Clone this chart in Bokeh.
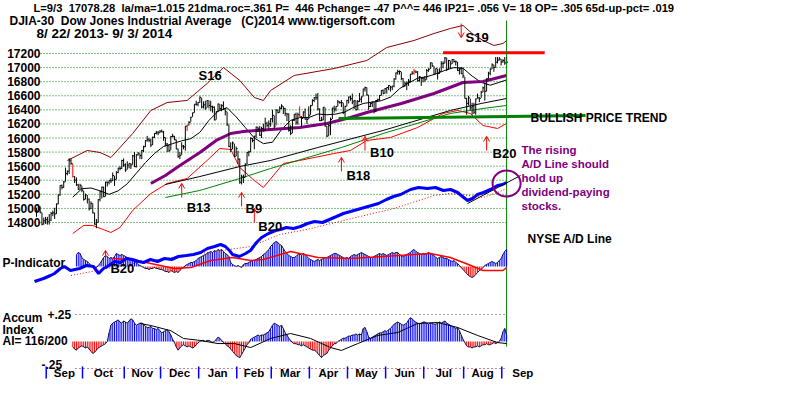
import numpy as np
from bokeh.plotting import figure
from bokeh.models import Range1d
from bokeh.core.properties import value
from bokeh.embed import file_html
from bokeh.resources import INLINE

# ---------------- data ----------------
# DJIA daily bars, trading-day index 0 = 8/22/2013 ... 259 = 9/3/2014
close = [14963,15010,14946,14776,14825,14840,14810,14834,14930,14937,
         14922,15063,15191,15326,15300,15376,15494,15529,15676,15636,
         15451,15401,15334,15273,15328,15258,15129,15191,15133,14996,
         15072,14936,14776,14802,15126,15237,15301,15168,15373,15371,
         15399,15392,15467,15413,15509,15570,15568,15680,15618,15545,
         15615,15639,15618,15746,15593,15761,15783,15750,15821,15876,
         15961,15976,15967,15900,16010,16065,16073,16073,16097,16086,
         16008,15915,15890,15821,16020,16025,15974,15844,15739,15755,
         15885,15875,16168,16179,16221,16295,16358,16479,16479,16505,
         16577,16441,16470,16425,16531,16462,16444,16437,16257,16374,
         16482,16418,16459,16415,16374,16198,15880,15838,15929,15739,
         15849,15699,15373,15446,15441,15629,15795,15802,15995,15964,
         16027,16154,16130,16041,16133,16104,16208,16180,16199,16273,
         16322,16168,16396,16361,16422,16453,16419,16351,16340,16109,
         16066,16248,16337,16223,16331,16303,16277,16368,16268,16264,
         16324,16458,16532,16573,16572,16413,16246,16256,16437,16171,
         16027,16174,16263,16425,16409,16449,16514,16502,16501,16361,
         16448,16535,16581,16558,16513,16531,16402,16518,16551,16584,
         16696,16715,16613,16447,16492,16512,16374,16533,16543,16606,
         16676,16634,16699,16717,16744,16723,16738,16837,16924,16943,
         16945,16843,16734,16776,16781,16808,16907,16921,16947,16937,
         16818,16868,16846,16851,16827,16956,16976,17068,17024,16906,
         16985,16915,16944,17055,17060,17138,16977,17100,17052,17114,
         17087,17083,16961,16983,16913,16881,16563,16493,16570,16429,
         16443,16368,16554,16569,16560,16651,16713,16663,16839,16920,
         16979,17039,17001,17076,17107,17122,17080,17098,17067,17078]
high = [15010,15040,15030,14940,14870,14880,14880,14920,14950,14970,
        15010,15070,15200,15330,15340,15390,15580,15540,15710,15710,
        15640,15460,15440,15350,15350,15320,15250,15210,15190,15140,
        15100,15070,14940,14850,15130,15250,15310,15310,15380,15380,
        15400,15430,15510,15460,15530,15580,15600,15690,15710,15640,
        15670,15640,15640,15760,15800,15770,15800,15780,15830,15890,
        15970,16030,16000,15990,16020,16070,16100,16100,16110,16120,
        16100,16010,15930,15900,16030,16060,16030,15980,15850,15800,
        15940,15900,16170,16190,16240,16300,16360,16480,16530,16510,
        16590,16570,16520,16530,16540,16530,16530,16460,16450,16380,
        16490,16480,16480,16520,16430,16370,16190,15940,15950,15920,
        15880,15820,15710,15480,15480,15640,15800,15820,16010,16000,
        16030,16160,16160,16170,16160,16200,16290,16230,16250,16280,
        16400,16320,16410,16400,16450,16480,16450,16430,16350,16350,
        16180,16260,16340,16360,16360,16450,16310,16380,16420,16300,
        16450,16470,16550,16580,16630,16640,16420,16300,16440,16430,
        16170,16200,16290,16430,16460,16450,16540,16520,16540,16500,
        16460,16540,16590,16600,16630,16540,16530,16540,16640,16590,
        16700,16730,16720,16610,16500,16520,16510,16540,16560,16610,
        16680,16690,16710,16720,16750,16740,16740,16850,16930,16970,
        16960,16940,16850,16800,16800,16840,16910,16950,16980,16960,
        16950,16880,16860,16860,16880,16980,16990,17070,17070,17020,
        16990,16980,16990,17090,17090,17150,17140,17110,17100,17120,
        17120,17100,17080,17000,17010,17000,16870,16570,16600,16560,
        16500,16500,16560,16630,16580,16670,16730,16780,16850,16940,
        16990,17060,17040,17150,17150,17150,17120,17120,17150,17150]
low = [14880,14950,14930,14760,14770,14780,14770,14770,14820,14890,
       14850,14920,15060,15180,15270,15290,15380,15470,15490,15620,
       15440,15360,15320,15260,15270,15230,15110,15130,15070,14970,
       14990,14930,14770,14720,14800,15100,15140,15160,15170,15310,
       15340,15360,15390,15320,15410,15500,15540,15560,15590,15520,
       15550,15570,15560,15620,15590,15580,15750,15700,15700,15800,
       15870,15950,15940,15870,15900,16000,16050,16040,16070,16080,
       15960,15880,15800,15800,15830,16010,15970,15840,15720,15700,
       15760,15840,15820,16100,16180,16230,16300,16360,16460,16450,
       16500,16420,16420,16400,16430,16420,16380,16360,16250,16260,
       16370,16390,16380,16400,16320,16170,15870,15800,15840,15730,
       15740,15630,15350,15340,15360,15440,15630,15740,15800,15940,
       15840,16000,16090,16030,16000,16090,16100,16150,16130,16160,
       16220,16130,16180,16350,16360,16410,16340,16310,16240,16090,
       16040,16070,16240,16190,16190,16300,16150,16280,16260,16200,
       16270,16330,16460,16510,16540,16390,16240,16240,16250,16160,
       16010,16030,16040,16270,16360,16380,16450,16490,16440,16340,
       16290,16450,16490,16530,16480,16410,16390,16400,16510,16500,
       16590,16660,16600,16400,16440,16440,16350,16370,16510,16530,
       16600,16620,16630,16630,16680,16660,16680,16720,16830,16900,
       16900,16820,16720,16730,16680,16740,16790,16900,16900,16920,
       16800,16800,16740,16790,16800,16830,16940,16980,17010,16900,
       16910,16830,16910,16950,16990,17060,16950,16980,16990,17050,
       17070,17030,16950,16900,16910,16850,16560,16330,16460,16400,
       16330,16340,16330,16560,16510,16570,16650,16530,16660,16840,
       16890,16980,16940,17000,17060,17100,17030,17070,17040,17050]
red_bar_days = [20, 83, 145, 208]

# moving averages and bands (day index, value)
ma21_day = [20,25,30,35,40,45,50,55,60,65,70,75,80,85,90,95,100,105,110,115,120,125,
            130,135,140,145,150,155,160,165,170,175,180,185,190,195,200,205,210,215,
            220,225,230,235,240,245,250,255,259]
ma21 = [15160,15280,15290,15250,15200,15250,15350,15500,15650,15780,15880,15920,15960,
        15990,16080,16250,16380,16430,16300,16150,16000,15920,15940,16120,16250,16290,
        16290,16340,16330,16340,16370,16440,16490,16510,16530,16580,16700,16780,16850,
        16870,16910,16960,17000,16990,16880,16790,16750,16790,16826]
ma65_day = [63,71,79,90,99,107,114,129,145,160,173,182,201,219,235,246,259]
ma65 = [15354,15468,15610,15794,15965,16064,16092,16121,16149,16206,16291,16362,16490,
        16632,16788,16802,16888]
ma200_day = [71,90,112,129,155,191,228,245,259]
ma200 = [15340,15453,15595,15681,15865,16107,16391,16490,16561]
gma_day = [71,90,112,129,168,191,228,246,259]
gma = [15155,15255,15425,15567,15865,16064,16348,16419,16462]
upper_day = [17,28,35,41,53,63,72,83,94,103,112,120,125,129,142,164,182,193,208,219,
             228,235,240,246,252,257,259]
upper = [15681,15823,15794,15723,16064,16391,16504,16533,16774,17001,16817,16575,16533,
         16675,16888,16987,17101,17285,17385,17484,17555,17598,17484,17385,17314,17342,17385]
lower_day = [20,26,31,41,46,53,63,72,83,94,101,107,112,120,125,136,145,164,173,182,195,
             210,224,232,239,246,254,259]
lower = [14644,14758,14758,14658,14729,14971,15212,15354,15425,15681,15851,15837,15581,
         15397,15297,15638,15681,15780,15823,15965,16007,16149,16348,16391,16348,16178,
         16135,16206]

resist_day = [224, 280]
resist_level = 17210
trend_day = [166.4, 302.5]
trend_level = [16277, 16320]

# NYSE A/D line (arbitrary cumulative units)
ad_day = [-1.1,3.9,7.7,9.9,13.2,15.4,18.7,23.7,27.5,31.4,34.2,36.9,39.1,43.0,46.3,49.6,
          52.9,56.2,59.0,62.8,66.7,70.5,74.4,78.2,82.6,86.5,90.4,94.2,98.1,101.4,104.1,
          106.3,108.0,111.8,115.2,117.9,121.2,124.0,127.8,131.7,134.4,137.7,141.6,145.5,
          149.3,153.2,157.6,161.4,165.3,169.1,173.0,176.9,180.7,184.6,188.4,192.8,196.7,
          200.6,206.1,210.5,215.4,219.8,224.2,228.1,232.0,234.7,237.5,240.2,243.0,246.3,
          250.1,254.0,256.8,259.0]
ad_line = [1,4,7,9,14,16,12,14,17,16,9,14,16,21,20,24,23,21,20,23,21,24,23,26,27,28,30,
           34,36,38,36,32,28,26,29,32,40,45,49,52,53,55,54,56,59,61,60,63,66,69,71,73,75,
           77,79,83,86,88,93,95,94,95,92,93,90,86,82,84,88,90,93,97,98,100]
ad_ma_day = [19,59,102,118,134,149,169,197,219,228,238,246,254,259]
ad_ma = [7,21,32,36,48,53,62,74,87,89,87,85,90,94]
ad_trend_day = [237.5, 266.7]
ad_trend = [79, 107]

# P-Indicator, daily from day 22
p_first = 22
p_ind = [312,364,338,234,182, 156,130,78,26,-26, -52,-26,26,78,156, 234,286,260,208,234,
         208,260,338,312,286, 312,286,260,234,208, 182,156,130,104,52, 26,0,-26,-52,-52,
         -78,-52,-52,-26,-52, -52,-78,-78,-104,-130, -130,-156,-104,-130,-156,
         -130,-156,-104,-52,-26, 26,52,78,104,104, 130,156,208,234,260, 286,312,338,364,390,
         364,416,390,442,416, 442,390,338,312,260, 104,52,26,0,26, 0,-26,52,78,78,
         104,130,156,156,182, 208,234,260,312,338, 390,442,520,572,624, 650,624,572,546,468,
         390,338,286,260,234, 234,260,312,338,286, 338,312,260,208,182, 156,130,156,182,156,
         182,208,234,234,260, 286,312,338,338,312, 286,260,234,208,234, 208,260,286,312,286,
         312,338,364,338,312, 286,260,234,234,260, 286,312,338,312,338, 312,286,312,338,364,
         338,364,364,312,286, 260,286,312,338,364, 416,442,390,364,338, 312,338,312,338,364,
         338,312,286,234,208, 234,260,234,208,208, 182,156,130,156,104, 78,26,-26,-78,-130,
         -182,-234,-260,-286,-260, -208,-156,-104,-78,-26, 26,52,78,104,130, 104,78,104,156,208,
         312,390,446]
p_ma_day = [41,53,63,76,85,96,108,118,125,140,155,173,191,217,228,238,246,257,259]
p_ma = [208,182,78,-52,-26,156,234,156,182,390,234,208,260,338,234,52,-104,-104,-26]

# Accumulation Index, daily from day 20
acc_first = 20
accum = [-.05,-.07,-.08,-.06,-.05, -.04,-.05,-.06,-.05,-.07, -.09,-.11,-.10,-.08,-.06,
         -.05,-.04,-.03,-.02,.00, .08,.15,.17,.18,.19, .20,.18,.17,.19,.18,
         .17,.19,.21,.20,.17, .15,.16,.17,.17,.16, .14,.13,.13,.14,.12, .12,.11,.12,.10,.08,
         .09,.10,.11,.09,.06, .02,-.01,-.05,-.08,-.06, -.04,-.03,-.04,-.05,-.04,
         -.05,-.06,-.05,-.03,-.01, .00,.01,.01,.00,.01, .01,.00,-.01,.00,.02,
         .04,.03,.01,-.01,-.02, -.04,-.05,-.07,-.09,-.11, -.13,-.14,-.15,-.12,-.09,
         -.06,-.03,-.01,.02,.03, .04,.05,.06,.05,.06, .06,.07,.08,.09,.12, .15,.17,.16,.15,.14,
         .15,.12,.08,.06,.03, .01,-.01,-.02,-.02,-.03, -.03,-.04,-.03,-.04,-.05,
         -.06,-.07,-.08,-.08,-.09, -.11,-.13,-.15,-.13,-.12, -.11,-.08,-.06,-.04,-.02,
         -.02,.00,.01,.02,.03, .03,.04,.05,.05,.06, .06,.07,.06,.07,.06, .12,.13,.09,.04,.03,
         .04,.05,.06,.07,.08, .08,.09,.10,.09,.11, .12,.14,.16,.17,.18, .17,.16,.15,.16,.17,
         .20,.22,.21,.19,.18, .17,.16,.17,.18,.18, .17,.16,.17,.17,.16, .16,.17,.18,.17,.18,
         .19,.17,.16,.15,.14, .13,.12,.13,.10,.06, .02,-.01,-.04,-.05,-.05,
         -.06,-.05,-.05,-.04,-.05, -.04,-.03,-.03,-.02,-.03, -.03,-.02,-.01,-.02,-.01,
         .00,.03,.09,.12,.06]
acc_ma_day = [57,63,74,81,90,100,109,118,129,140,151,162,168,177,188,199,210,221,232,243,254,259]
acc_ma = [.167,.148,.10,.028,.01,-.019,-.019,-.056,.028,.074,.028,-.056,-.083,-.019,.056,
          .083,.167,.176,.13,.056,-.01,-.019]

price_ticks = [14800,15000,15200,15400,15600,15800,16000,16200,16400,16600,16800,17000,17200]
month_first_day = [7,27,50,70,91,112,131,152,173,194,215,237,258]
month_names = ["Sep","Oct","Nov","Dec","Jan","Feb","Mar","Apr","May","Jun","Jul","Aug","Sep"]

buy_names = ["B13","B9","B20","B18","B10","B20"]
buy_day = [80,113,120,168,181,248]
buy_level = [15354,15226,14999,15723,16021,16021]
sell_day = [234]
sell_level = [17427]
p_buy_day = [38]
p_buy_level = [416]

NB = "\u00a0"
header1 = ("L=9/3" + NB * 2 + "17078.28" + NB * 2 + "la/ma=1.015 21dma.roc=.361 P=" + NB * 2 +
           "446 Pchange= -47 P^^= 446 IP21= .056 V= 18 OP= .305 65d-up-pct= .019")
header2 = ("DJIA-30" + NB * 2 + "Dow Jones Industrial Average" + NB * 3 +
           "(C)2014 www.tigersoft.com")
header3 = "8/ 22/ 2013- 9/ 3/ 2014"
note_lines = ["The rising", "A/D Line should", "hold up", "dividend-paying", "stocks."]

# ---------------- geometry (pixels of the picture) ----------------
W, H, M = 784, 379, 0
X0, XSTEP = 36.0, 1.815
Y17200, PXPT = 53.0, 169.0 / 2400.0
AD_BASE = 282.0
P_BASE, P_PER_PX = 266.0, 26.0
A_BASE, A_PX = 341.0, 108.0

def day_at(px): return (px - X0) / XSTEP
def price_at(py): return 17200.0 - (py - Y17200) / PXPT
def ad_at(py): return AD_BASE - py
def p_at(py): return (P_BASE - py) * P_PER_PX
def acc_at(py): return (A_BASE - py) / A_PX

FONT = value("Liberation Sans")
BLUE, RED, MAROON, PURPLE, GREEN = "#0000ff", "#ff0000", "#8b0000", "#800080", "#008000"

p = figure(width=W, height=H, x_range=Range1d(day_at(M), day_at(M + W)),
           y_range=Range1d(price_at(M + H), price_at(M)), output_backend="svg",
           toolbar_location=None, min_border=0, x_axis_location=None,
           y_axis_location=None, outline_line_color=None)
p.grid.visible = False
p.extra_y_ranges = {"ad": Range1d(ad_at(M + H), ad_at(M)),
                    "pi": Range1d(p_at(M + H), p_at(M)),
                    "acc": Range1d(acc_at(M + H), acc_at(M))}

def txt(px, py, s, color="black", size="12px", align="left"):
    p.text(x=[day_at(px)], y=[price_at(py)], text=[s], text_font=FONT,
           text_font_style="bold", text_font_size=size, text_color=color,
           text_align=align, text_baseline="middle")

# price grid + labels
n = len(price_ticks)
p.segment(x0=[day_at(40)] * n, x1=[day_at(507)] * n, y0=price_ticks, y1=price_ticks,
          line_color=GREEN, line_width=1, line_dash="1 2")
p.text(x=[day_at(40)] * n, y=price_ticks, text=[str(t) for t in price_ticks],
       text_font=FONT, text_font_style="bold", text_font_size="12px",
       text_align="right", text_baseline="middle", text_color="black")

# accum dotted reference lines
p.segment(x0=[day_at(75)], x1=[day_at(507)], y0=[0.25], y1=[0.25], y_range_name="acc",
          line_color="#404040", line_dash="1 3")
p.segment(x0=[day_at(75)], x1=[day_at(507)], y0=[-0.25], y1=[-0.25], y_range_name="acc",
          line_color="#a00050", line_dash="1 3")

# bands and averages
p.line(upper_day, upper, line_color=MAROON, line_width=1)
p.line(lower_day, lower, line_color=RED, line_width=1)
p.line(ma200_day, ma200, line_color="black", line_width=1)
p.line(gma_day, gma, line_color=GREEN, line_width=1)
p.line(ma21_day, ma21, line_color="black", line_width=1)
p.line(ma65_day, ma65, line_color=PURPLE, line_width=3)

# price bars
days = np.arange(len(close))
cols = ["red" if d in red_bar_days else "black" for d in days]
p.segment(x0=days, y0=low, x1=days, y1=high, line_color=cols, line_width=1)
p.segment(x0=days, y0=close, x1=days + 1.5 / XSTEP, y1=close, line_color=cols, line_width=1)

# horizontal levels
p.line(resist_day, [resist_level] * 2, line_color=RED, line_width=3)
p.line(trend_day, trend_level, line_color=GREEN, line_width=3)

# last-day vertical
last = days[-1]
p.segment(x0=[last], x1=[last], y0=[price_at(20)], y1=[price_at(346)],
          line_color=GREEN, line_width=1)

# P-Indicator histogram
pd_ = np.arange(p_first, p_first + len(p_ind))
pv = np.array(p_ind, dtype=float)
pos = pv >= 0
p.segment(x0=pd_[pos], x1=pd_[pos], y0=0, y1=pv[pos], y_range_name="pi", line_color=BLUE)
p.segment(x0=pd_[~pos], x1=pd_[~pos], y0=0, y1=pv[~pos], y_range_name="pi", line_color=RED)
p.line(pd_, pv, y_range_name="pi", line_color="#101040", line_width=1)
p.line(p_ma_day, p_ma, y_range_name="pi", line_color=RED, line_width=1.5)

# Accumulation index histogram
ad_ = np.arange(acc_first, acc_first + len(accum))
av = np.array(accum)
pos = av >= 0
p.segment(x0=ad_[pos], x1=ad_[pos], y0=0, y1=av[pos], y_range_name="acc", line_color=BLUE)
p.segment(x0=ad_[~pos], x1=ad_[~pos], y0=0, y1=av[~pos], y_range_name="acc", line_color=RED)
p.line(ad_, av, y_range_name="acc", line_color="#101040", line_width=1)
p.line(acc_ma_day, acc_ma, y_range_name="acc", line_color="black", line_width=1)

# A/D line
p.line(ad_ma_day, ad_ma, y_range_name="ad", line_color=RED, line_width=1, line_dash="1 2")
p.line(ad_day, ad_line, y_range_name="ad", line_color=BLUE, line_width=3)
p.line(ad_trend_day, ad_trend, y_range_name="ad", line_color="black", line_width=1)
p.ellipse(x=[last], y=[ad_line[-1] - 1], width=28, height=26, width_units="screen",
          height_units="screen", fill_color=None, line_color=PURPLE, line_width=2,
          y_range_name="ad")

# signal arrows
SH, HW, HH = 14.0, 3.0, 5.0
def up_arrows(xs, tips, to_data, rng="default"):
    xs = np.array(xs, dtype=float)
    kw = {} if rng == "default" else {"y_range_name": rng}
    tip = np.array(tips, dtype=float)
    p.segment(x0=xs, x1=xs, y0=tip, y1=to_data(tip, SH), line_color=RED, **kw)
    p.segment(x0=xs, x1=xs - HW / XSTEP, y0=tip, y1=to_data(tip, HH), line_color=RED, **kw)
    p.segment(x0=xs, x1=xs + HW / XSTEP, y0=tip, y1=to_data(tip, HH), line_color=RED, **kw)

up_arrows(buy_day, buy_level, lambda v, d: v - d / PXPT)
up_arrows(p_buy_day, p_buy_level, lambda v, d: v - d * P_PER_PX, "pi")
# sell arrow (down)
sx = np.array(sell_day, dtype=float); st = np.array(sell_level, dtype=float)
p.segment(x0=sx, x1=sx, y0=st, y1=st + SH / PXPT, line_color=RED)
p.segment(x0=sx, x1=sx - HW / XSTEP, y0=st, y1=st + HH / PXPT, line_color=RED)
p.segment(x0=sx, x1=sx + HW / XSTEP, y0=st, y1=st + HH / PXPT, line_color=RED)

lab_off = [(5, 24), (4, 16), (4, 18), (5, 18), (5, 16), (6, 17)]
for nm, d, lv, (ox, oy) in zip(buy_names, buy_day, buy_level, lab_off):
    p.text(x=[d + ox / XSTEP], y=[lv - oy / PXPT], text=[nm], text_font=FONT,
           text_font_style="bold", text_font_size="13px", text_baseline="middle")
p.text(x=[p_buy_day[0] + 5 / XSTEP], y=[p_buy_level[0] - 18 * P_PER_PX], text=["B20"],
       y_range_name="pi", text_font=FONT, text_font_style="bold", text_font_size="13px",
       text_baseline="middle")
txt(198, 75, "S16", size="13px")
txt(465, 37, "S19", size="13px")

# header and labels
txt(33, 7, header1, size="11.2px")
txt(9, 20, header2)
txt(36, 33, header3, size="13.5px")
txt(530, 117, "BULLISH PRICE TREND", size="12px")
for i, s in enumerate(note_lines):
    txt(521, 149 + 14 * i, s, color=PURPLE, size="11.5px")
txt(527, 238, "NYSE A/D Line")
txt(2, 262, "P-Indicator")
txt(2, 317, "Accum")
txt(2, 329, "Index")
txt(2, 340, "AI= 116/200")
txt(47, 314, "+.25")
txt(41, 364, "-.25")

# month axis (squeezed into the bottom of the canvas)
tick_x = [d - 3.0 / XSTEP for d in month_first_day]
p.segment(x0=tick_x, x1=tick_x, y0=[price_at(366)] * len(tick_x),
          y1=[price_at(378)] * len(tick_x), line_color=BLUE, line_width=1.5)
lab_x = [(a + b) / 2 for a, b in zip(tick_x[:-1], tick_x[1:])] + [tick_x[-1] + 21 / XSTEP]
p.text(x=lab_x, y=[price_at(372)] * len(lab_x), text=month_names, text_font=FONT,
       text_font_style="bold", text_font_size="11.5px", text_align="center",
       text_baseline="middle")

open("out.html", "w").write(file_html(p, INLINE))
